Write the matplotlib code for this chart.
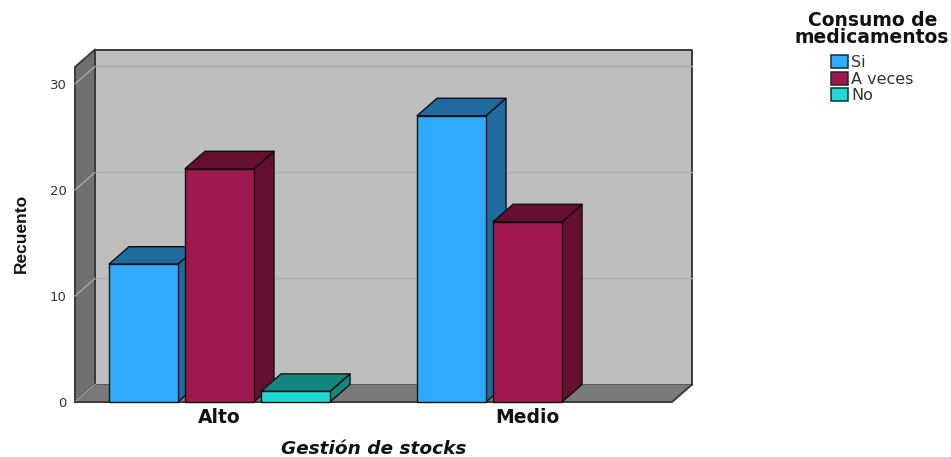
import matplotlib
matplotlib.use("Agg")
import matplotlib.pyplot as plt
from matplotlib import font_manager as fm
from matplotlib.patches import Polygon, Patch

# Data
categories = ["Alto", "Medio"]
series_names = ["Si", "A veces", "No"]
si_values = [13, 27]
a_veces_values = [22, 17]
no_values = [1, 0]
y_ticks = [0, 10, 20, 30]

front_colors = ["#30AAFF", "#A0174D", "#20D8D4"]
top_colors = ["#1F6B9F", "#650E30", "#158580"]
side_colors = ["#1F6B9F", "#650E30", "#158580"]

WALL = "#707070"
FLOOR = "#7A7A7A"
BACK = "#BEBEBE"
GRID = "#ADADAD"
WALL_GRID = "#A8A8A8"
FRAME = "#3A3A3A"

# Box geometry in data units
X_MIN, X_MAX = -0.469, 1.469
Y_MAX = 31.6
DX = 0.065
DY = 1.65
BAR_STEP = 0.2468
BAR_WIDTH = 0.224

fig = plt.figure(figsize=(9.51, 4.57), dpi=100, facecolor="white")
ax = fig.add_axes([75 / 951, (457 - 402) / 457, 597 / 951, 335 / 457])
ax.set_xlim(X_MIN, X_MAX)
ax.set_ylim(0, Y_MAX)
for s in ax.spines.values():
    s.set_visible(False)
ax.patch.set_visible(False)


def poly(points, face, edge="none", lw=0.0, z=1):
    ax.add_patch(Polygon(points, closed=True, facecolor=face, edgecolor=edge,
                         linewidth=lw, clip_on=False, zorder=z, joinstyle="round"))


# Back wall, floor and left wall of the box
poly([(X_MIN + DX, DY), (X_MAX + DX, DY), (X_MAX + DX, Y_MAX + DY), (X_MIN + DX, Y_MAX + DY)],
     BACK, FRAME, 1.4, 1)
poly([(X_MIN, 0), (X_MAX, 0), (X_MAX + DX, DY), (X_MIN + DX, DY)], FLOOR, z=1.2)
poly([(X_MIN, 0), (X_MIN + DX, DY), (X_MIN + DX, Y_MAX + DY), (X_MIN, Y_MAX)],
     WALL, FRAME, 1.4, 1.3)

# Gridlines run along the back wall and down the left wall
for t in y_ticks:
    if t > 0:
        ax.plot([X_MIN + DX, X_MAX + DX], [t + DY, t + DY], color=GRID, lw=1.0,
                clip_on=False, zorder=1.1)
    ax.plot([X_MIN, X_MIN + DX], [t, t + DY], color=WALL_GRID, lw=1.0,
            clip_on=False, zorder=1.4)
ax.plot([X_MIN, X_MAX, X_MAX + DX], [0, 0, DY], color=FRAME, lw=1.4,
        clip_on=False, zorder=1.5)

# 3D columns, drawn left to right so nearer faces overlap the side faces
z = 2.0
for cat_i in range(len(categories)):
    for ser_i, values in enumerate([si_values, a_veces_values, no_values]):
        v = values[cat_i]
        if v <= 0:
            continue
        c = cat_i + (ser_i - 1) * BAR_STEP
        x0, x1 = c - BAR_WIDTH / 2, c + BAR_WIDTH / 2
        poly([(x1, 0), (x1 + DX, DY), (x1 + DX, v + DY), (x1, v)],
             side_colors[ser_i], "#101010", 1.0, z)
        poly([(x0, v), (x1, v), (x1 + DX, v + DY), (x0 + DX, v + DY)],
             top_colors[ser_i], "#101010", 1.0, z + 0.01)
        ax.bar(c, v, width=BAR_WIDTH, color=front_colors[ser_i], edgecolor="#101010",
               linewidth=1.0, zorder=z + 0.02, clip_on=False)
        z += 0.1

# Axis text
ax.set_xticks(range(len(categories)))
ax.set_xticklabels(categories, fontsize=13.5, fontweight="bold", color="#111111")
ax.set_yticks(y_ticks)
ax.tick_params(axis="x", length=0, pad=4)
ax.tick_params(axis="y", length=0, pad=6, labelsize=9.5, labelcolor="#333333")
ax.set_xlabel("Gestión de stocks", fontsize=13.3, fontweight="bold", fontstyle="italic",
              color="#111111")
ax.xaxis.set_label_coords(0.5, -38 / 335)

names = {f.name for f in fm.fontManager.ttflist}
narrow = "Liberation Sans Narrow" if "Liberation Sans Narrow" in names else "Liberation Sans"
ax.set_ylabel("Recuento", fontsize=12.5, fontweight="bold", family=narrow, color="#111111")
ax.yaxis.set_label_coords(-46 / 597, 0.503)

# Legend
handles = [Patch(facecolor=c, edgecolor="#103038", linewidth=1.1) for c in front_colors]
leg = fig.legend(handles, series_names, title="Consumo de\nmedicamentos",
                 loc="upper left", bbox_to_anchor=(795 / 951, 1 - 11 / 457), frameon=False,
                 fontsize=11.5, labelspacing=0.1, handlelength=1.1, handleheight=0.85,
                 handletextpad=0.2, borderaxespad=0, borderpad=0,
                 title_fontproperties={"size": 13.5, "weight": "bold"})
leg.get_title().set_linespacing(0.85)
leg.get_title().set_multialignment("center")
leg.get_title().set_color("#111111")
leg._legend_box.sep = 6
for t in leg.get_texts():
    t.set_color("#333333")

fig.savefig("out.png", dpi=100, facecolor="white")
